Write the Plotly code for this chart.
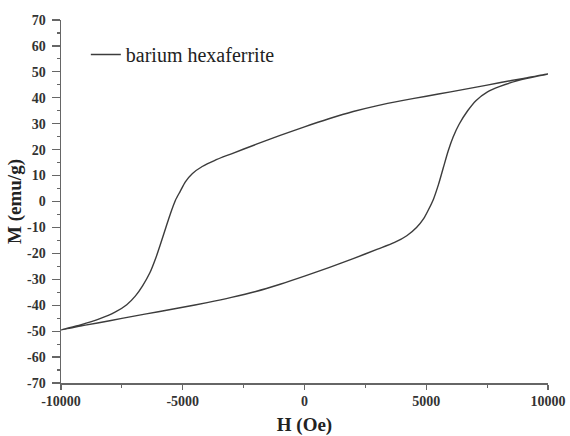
import plotly.graph_objects as go

# Descending branch (from +10000 Oe to -10000 Oe)
H_desc = [10000, 9000, 8000, 7000, 6000, 5000, 4000, 3000, 2000, 1000, 0, -1000, -2000, -3000,
          -3700, -4200, -4600, -4900, -5100, -5300, -5500, -5700, -5900, -6100, -6350, -6650,
          -6950, -7300, -7800, -8400, -9200, -10000]
M_desc = [49.2, 47.5, 45.8, 44.0, 42.3, 40.6, 38.9, 37.0, 34.7, 31.9, 28.8, 25.5, 22.0, 18.4,
          15.8, 13.5, 10.8, 7.5, 4.0, 0.5, -4.5, -10.2, -16.0, -21.6, -27.5, -32.5,
          -36.5, -39.8, -42.8, -45.2, -47.6, -49.5]

# Ascending branch (from -10000 Oe to +10000 Oe)
H_asc = [-10000, -9000, -8000, -7000, -6000, -5000, -4000, -3000, -2000, -1000, 0, 1000, 2000,
         3000, 3700, 4200, 4600, 4900, 5100, 5300, 5500, 5700, 5900, 6100, 6350, 6700, 7050,
         7500, 8000, 8800, 10000]
M_asc = [-49.5, -47.7, -46.0, -44.2, -42.5, -40.8, -39.0, -37.0, -34.7, -31.9, -28.8, -25.5, -22.0,
         -18.4, -15.8, -13.2, -10.0, -6.5, -3.0, 1.0, 6.5, 13.0, 19.5, 24.8, 29.8, 35.0, 39.0,
         42.2, 44.3, 46.7, 49.2]

series_name = "barium hexaferrite"

x_tickvals = [-10000, -5000, 0, 5000, 10000]
x_ticktext = ["-10000", "-5000", "0", "5000", "10000"]
y_tickvals = [-70, -60, -50, -40, -30, -20, -10, 0, 10, 20, 30, 40, 50, 60, 70]
y_ticktext = [str(v) for v in y_tickvals]

H = H_desc + H_asc[1:]
M = M_desc + M_asc[1:]

fig = go.Figure()
fig.add_trace(go.Scatter(x=H, y=M, mode="lines", name=series_name,
                         line=dict(color="#3c3c3c", width=1.4, shape="spline", smoothing=0.7),
                         showlegend=True))

font_family = "Liberation Serif"
fig.update_layout(
    width=570, height=436,
    margin=dict(l=61, r=22, t=20, b=53),
    paper_bgcolor="white", plot_bgcolor="white",
    font=dict(family=font_family, color="#222"),
    showlegend=True,
    legend=dict(x=0.051, y=0.905, xanchor="left", yanchor="middle",
                font=dict(family=font_family, size=20, color="#222"),
                bgcolor="rgba(0,0,0,0)"),
    xaxis=dict(range=[-10000, 10000], tickvals=x_tickvals, ticktext=x_ticktext,
               automargin=False,
               showgrid=False, zeroline=False, showline=True, linecolor="#666", linewidth=1.5,
               ticks="outside", ticklen=5, tickcolor="#666", tickwidth=1.2,
               tickfont=dict(family=font_family, size=14, color="#333", weight="bold"),
               minor=dict(dtick=2500, ticks="outside", ticklen=3, tickcolor="#666"),
               title=dict(text="<b>H (Oe)</b>", font=dict(family=font_family, size=19, color="#222"),
                          standoff=13)),
    yaxis=dict(range=[-70, 70], tickvals=y_tickvals, ticktext=y_ticktext,
               automargin=False,
               showgrid=False, zeroline=False, showline=True, linecolor="#666", linewidth=1.5,
               ticks="outside", ticklen=8, tickcolor="#666", tickwidth=1.2,
               ticklabelstandoff=3,
               tickfont=dict(family=font_family, size=14, color="#333", weight="bold"),
               minor=dict(dtick=5, ticks="outside", ticklen=3, tickcolor="#666"),
               title=dict(text="<b>M (emu/g)</b>", font=dict(family=font_family, size=19, color="#222"),
                          standoff=0)),
)

fig.write_html("out.html", config={"displayModeBar": False, "staticPlot": True},
               post_script="document.body.style.margin='0';document.body.style.overflow='hidden';")
